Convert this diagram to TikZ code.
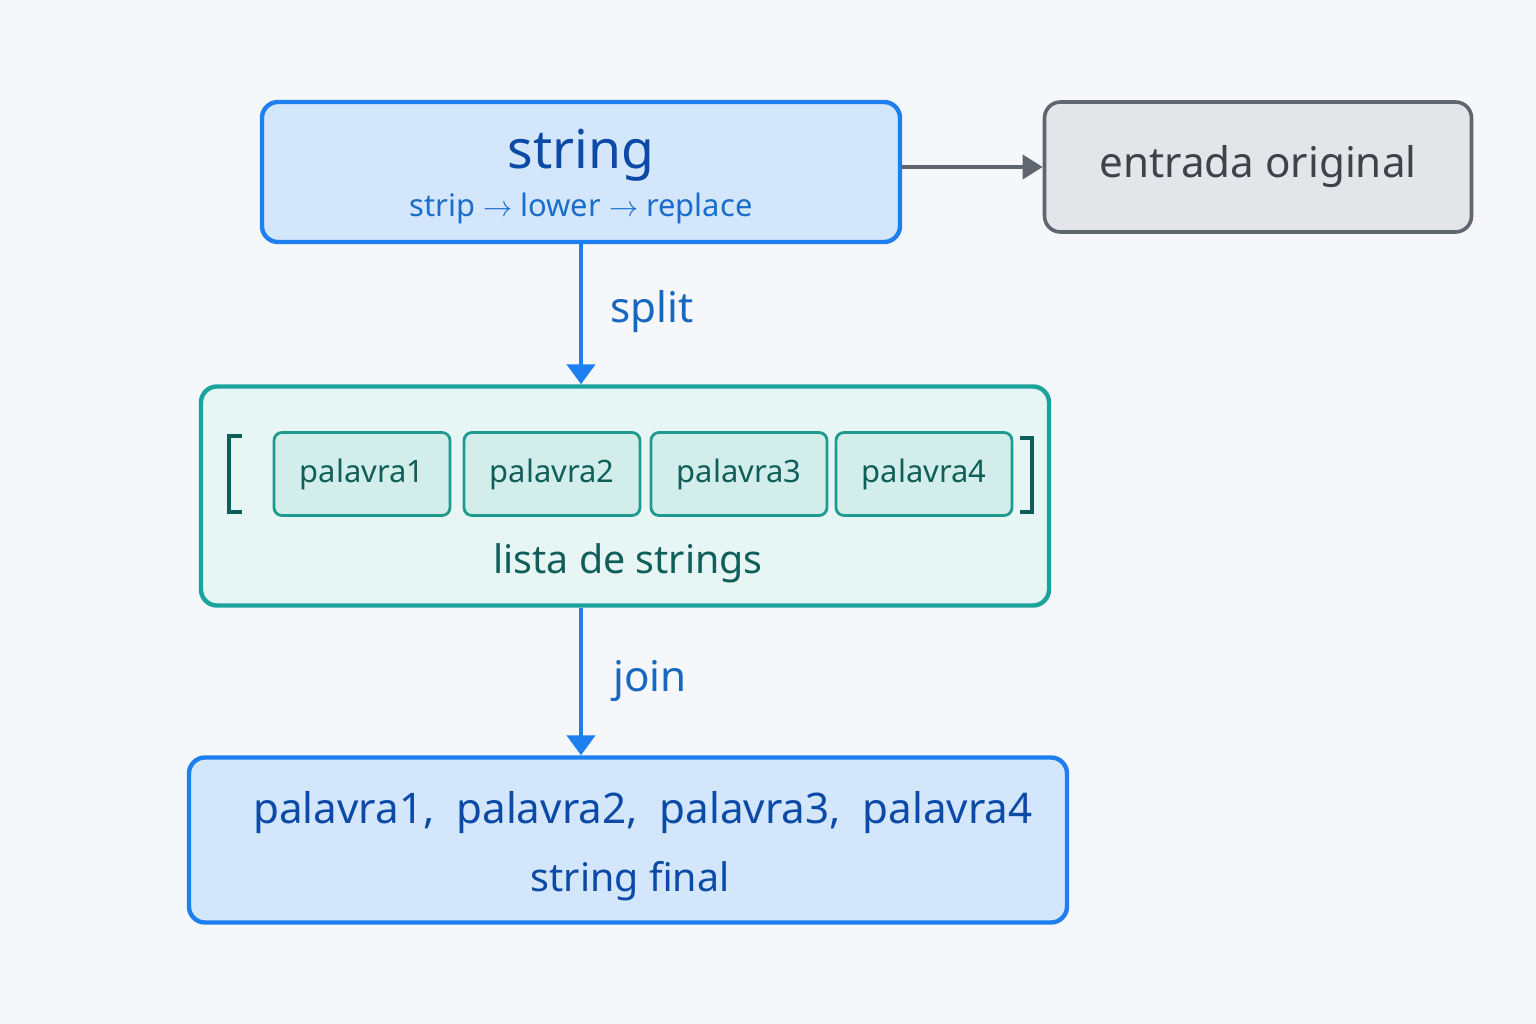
\documentclass[tikz,border=0pt]{standalone}
\usepackage{fontspec}
\setmainfont{Noto Sans}
\usetikzlibrary{positioning}
\usetikzlibrary{arrows.meta}
\definecolor{bgc}{HTML}{F5F7FA}
\definecolor{blueline}{HTML}{1E80F0}
\definecolor{bluefill}{HTML}{D3E6FC}
\definecolor{bluetext}{HTML}{0B4AA6}
\definecolor{tealline}{HTML}{1AA39A}
\definecolor{tealfill}{HTML}{E7F6F4}
\definecolor{wordfill}{HTML}{D3EEEA}
\definecolor{wordline}{HTML}{1E9A8E}
\definecolor{tealtext}{HTML}{0F5E5A}
\definecolor{grayline}{HTML}{5F6670}
\definecolor{grayfill}{HTML}{E3E5E9}
\definecolor{graytext}{HTML}{3D434B}
\tikzset{
	bluebox/.style={draw=blueline, fill=bluefill, line width=1.1mm, rounded corners=4mm},
	graybox/.style={draw=grayline, fill=grayfill, line width=0.9mm, rounded corners=4mm},
	listbox/.style={draw=tealline, fill=tealfill, line width=1.1mm, rounded corners=4mm},
	word/.style={draw=wordline, fill=wordfill, line width=0.7mm, rounded corners=2mm,
		minimum width=44mm, minimum height=20.75mm, font=\fontsize{22}{26}\selectfont\bfseries, text=tealtext},
	flow/.style={draw=blueline, line width=1.1mm, -{Triangle[length=5mm,width=7mm]}},
	flowlabel/.style={font=\fontsize{30}{36}\selectfont\bfseries, text=blueline!80!black},
	bracket/.style={draw=tealtext, line width=1.1mm}
}
\begin{document}
\begin{tikzpicture}[x=0.25mm, y=-0.25mm]
\fill[bgc] (0,0) rectangle (1536,1024);
\useasboundingbox (0,0) rectangle (1536,1024);

% boxes
\node[bluebox, minimum width=159.5mm, minimum height=35mm] (str) at (581,172) {};
\node[font=\fontsize{38}{44}\selectfont\bfseries, text=bluetext] (strtitle) at (581,155) {string};
\node[font=\fontsize{22}{26}\selectfont\bfseries, text=blueline!85!black] (strops) at (581,208) {strip $\rightarrow$ lower $\rightarrow$ replace};

\node[graybox, minimum width=106.75mm, minimum height=32.5mm, font=\fontsize{30}{36}\selectfont\bfseries, text=graytext] (orig) at (1258,167) {entrada original};

\node[listbox, minimum width=212mm, minimum height=54.75mm] (lista) at (625,496) {};
\node[word] (w1) at (362,474) {palavra1};
\node[word] (w2) at (552,474) {palavra2};
\node[word] (w3) at (739,474) {palavra3};
\node[word] (w4) at (924,474) {palavra4};
\node[font=\fontsize{28}{34}\selectfont\bfseries, text=tealtext] (listlabel) at (628,563) {lista de strings};
\draw[bracket] (242,436) -- (229,436) -- (229,512) -- (242,512);
\draw[bracket] (1020,438) -- (1032,438) -- (1032,512) -- (1020,512);

\node[bluebox, minimum width=219.5mm, minimum height=41.25mm] (final) at (628,840) {};
\node[font=\fontsize{30}{36}\selectfont\bfseries, text=bluetext] (finalwords) at (643,813) {palavra1,\ \ palavra2,\ \ palavra3,\ \ palavra4};
\node[font=\fontsize{28}{34}\selectfont\bfseries, text=bluetext] (finallabel) at (630,881) {string final};

% connectors
\draw[flow] (str.south -| 581,0) -- (lista.north -| 581,0);
\node[flowlabel] (split) at (652,312) {split};
\draw[flow] (lista.south -| 581,0) -- (final.north -| 581,0);
\node[flowlabel] (join) at (650,681) {join};
\draw[draw=grayline, line width=0.9mm, -{Triangle[length=5mm,width=6mm]}] (str.east |- orig) -- (orig.west);
\end{tikzpicture}
\end{document}
